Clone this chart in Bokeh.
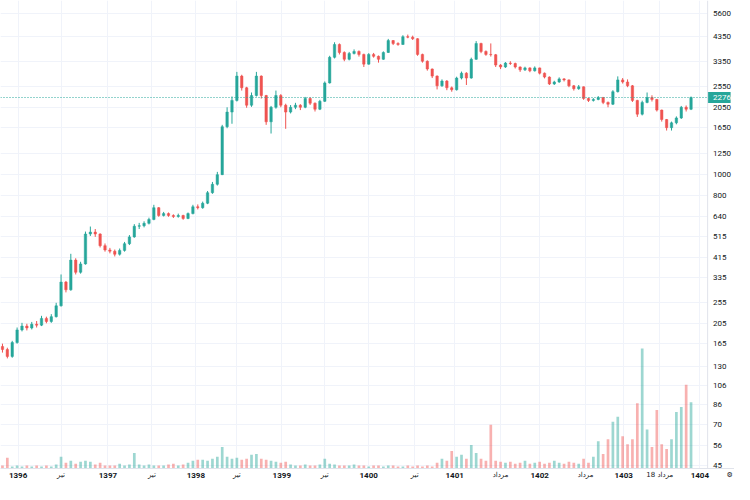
from bokeh.plotting import figure
from bokeh.models import (Range1d, FixedTicker, Span, ColumnDataSource, LinearScale,
                          LinearAxis)
from bokeh.core.properties import value
from bokeh.embed import file_html
from bokeh.resources import INLINE

# ---- data ----
first_open = 160
closes = [155, 144, 167, 191, 199, 195, 203, 201, 216, 209,
          220, 247, 318, 293, 402, 353, 386, 531, 542, 531,
          469, 448, 442, 428, 446, 479, 515, 577, 580, 595,
          620, 703, 647, 660, 647, 640, 647, 627, 660, 710,
          703, 737, 825, 902, 1000, 1667, 1948, 2206, 2859, 2524,
          2096, 2324, 2859, 2324, 1756, 2050, 2324, 2096, 1948, 2050,
          2096, 2050, 2253, 2140, 2008, 2184, 2658, 3492, 4005, 3678,
          3420, 3640, 3716, 3603, 3248, 3603, 3530, 3420, 3678, 4175,
          4047, 4005, 4350, 4330, 4260, 3603, 3350, 3084, 2859, 2577,
          2712, 2524, 2472, 2800, 2950, 2800, 3420, 4047, 3716, 3603,
          3590, 3216, 3150, 3284, 3270, 3150, 3055, 3120, 3025, 3120,
          2950, 2830, 2630, 2685, 2775, 2745, 2577, 2500, 2550, 2253,
          2206, 2230, 2276, 2160, 2118, 2422, 2745, 2685, 2577, 2206,
          1905, 2160, 2276, 2230, 1990, 1800, 1650, 1737, 1830, 2050,
          2008, 2276]
highs = [165, 158, 170, 196, 206, 204, 208, 210, 222, 220,
         226, 255, 345, 322, 430, 410, 395, 545, 575, 560,
         535, 480, 458, 450, 455, 488, 525, 590, 598, 608,
         632, 725, 708, 672, 668, 655, 660, 652, 668, 725,
         728, 750, 840, 925, 1030, 1700, 2050, 2300, 2990, 2900,
         2550, 2400, 2990, 2880, 2340, 2080, 2450, 2360, 2130, 2100,
         2150, 2120, 2290, 2280, 2160, 2220, 2700, 3550, 4100, 4050,
         3720, 3700, 3800, 3760, 3630, 3650, 3660, 3560, 3720, 4250,
         4200, 4100, 4420, 4450, 4400, 4280, 3630, 3380, 3100, 2880,
         2760, 2740, 2560, 2840, 3000, 2980, 3480, 4150, 4080, 3760,
         4050, 3620, 3250, 3320, 3350, 3300, 3170, 3160, 3140, 3170,
         3130, 2970, 2850, 2720, 2820, 2800, 2760, 2600, 2600, 2560,
         2270, 2260, 2310, 2290, 2180, 2460, 2850, 2800, 2760, 2600,
         2220, 2200, 2400, 2330, 2240, 2000, 1810, 1760, 1860, 2080,
         2090, 2300]
lows = [150, 141, 142, 165, 188, 190, 192, 196, 199, 205,
        206, 218, 245, 285, 290, 345, 348, 383, 520, 515,
        460, 440, 432, 418, 422, 440, 472, 510, 560, 570,
        588, 615, 638, 640, 638, 630, 632, 618, 622, 655,
        690, 695, 730, 815, 890, 995, 1640, 1720, 2180, 2450,
        2040, 2060, 2300, 2250, 1700, 1550, 2020, 2050, 1630, 1920,
        2010, 1990, 2030, 2100, 1960, 1990, 2170, 2640, 3450, 3600,
        3350, 3380, 3600, 3520, 3150, 3230, 3480, 3300, 3400, 3660,
        3980, 3950, 3990, 4280, 4200, 3550, 3300, 3030, 2800, 2480,
        2550, 2460, 2420, 2450, 2760, 2600, 2780, 3400, 3650, 3550,
        3520, 3150, 3080, 3120, 3220, 3100, 2990, 3020, 2980, 3000,
        2910, 2790, 2600, 2600, 2660, 2700, 2540, 2450, 2470, 2220,
        2170, 2180, 2210, 2120, 2050, 2100, 2400, 2640, 2540, 2170,
        1850, 1880, 2140, 2180, 1960, 1760, 1600, 1600, 1710, 1810,
        1960, 1990]
volumes = [3, 11, 2, 3, 2, 3, 2, 3, 2, 3,
           2, 4, 12, 6, 8, 5, 7, 8, 7, 4,
           6, 3, 3, 3, 5, 3, 4, 16, 4, 3,
           4, 3, 3, 3, 4, 5, 3, 4, 6, 8,
           9, 9, 8, 10, 12, 22, 12, 10, 11, 9,
           10, 14, 15, 10, 9, 8, 7, 6, 7, 4,
           3, 3, 4, 3, 3, 4, 10, 5, 4, 3,
           3, 3, 4, 3, 3, 2, 3, 3, 2, 3,
           3, 2, 2, 3, 2, 3, 2, 3, 2, 6,
           10, 8, 18, 12, 14, 10, 24, 16, 10, 8,
           45, 8, 7, 6, 7, 5, 6, 8, 5, 6,
           7, 5, 6, 8, 6, 5, 7, 6, 5, 10,
           6, 12, 28, 15, 30, 48, 53, 33, 25, 30,
           67, 123, 40, 22, 60, 25, 20, 30, 58, 63,
           86, 68]
last_price = 2276
price_ticks = [45, 56, 70, 86, 106, 130, 165, 205, 255, 335, 415, 515,
               640, 800, 1000, 1250, 1650, 2050, 2550, 3350, 4350, 5600]
year_pos = [3.2, 21.6, 39.6, 57.2, 75, 92.6, 110, 127.2, 142.8]
year_text = ["1396", "1397", "1398", "1399", "1400", "1401", "1402", "1403", "1404"]
month_pos = [12, 30.6, 48, 66, 84.4, 102, 119.4, 134.6]
month_text = ["تیر", "تیر", "تیر", "تیر", "تیر", "مرداد", "مرداد", "18 مرداد"]

UP = "#26a69a"
DN = "#ef5350"
TXT = "#131722"
GRID = "#f0f3fa"
PANE = "#e0e3eb"

opens = [first_open] + closes[:-1]
idx = list(range(len(closes)))
cols = [UP if c >= o else DN for o, c in zip(opens, closes)]
src = ColumnDataSource(dict(
    x=idx, o=opens, h=highs, l=lows, c=closes,
    top=[max(o, c) for o, c in zip(opens, closes)],
    bot=[min(o, c) for o, c in zip(opens, closes)],
    col=cols, vol=volumes))

# price pane spans x_start..x_pane; the price scale strip spans x_pane..x_end
x_start, x_pane, x_end = -0.4, 144.4, 149.9
y_lo, y_hi = 43.6, 6400

p = figure(width=734, height=484, y_axis_type="log", y_axis_location=None,
           x_range=Range1d(x_start, x_end), y_range=Range1d(y_lo, y_hi),
           output_backend="svg", toolbar_location=None,
           min_border_left=0, min_border_top=0, min_border_right=0, min_border_bottom=16)
p.extra_y_ranges = {"vol": Range1d(0, 480)}
p.extra_y_scales = {"vol": LinearScale()}
p.outline_line_color = None
p.background_fill_color = "white"
p.border_fill_color = "white"

p.xgrid.ticker = FixedTicker(ticks=sorted(year_pos + month_pos))
p.ygrid.ticker = FixedTicker(ticks=price_ticks)
p.xgrid.grid_line_color = GRID
p.ygrid.grid_line_color = GRID

# volume
p.vbar(x="x", width=0.55, top="vol", bottom=0, y_range_name="vol",
       fill_color="col", line_color=None, fill_alpha=0.45, source=src)
# candles
p.segment(x0="x", y0="l", x1="x", y1="h", line_color="col", line_width=1, source=src)
p.vbar(x="x", width=0.5, top="top", bottom="bot", fill_color="col", line_color="col",
       line_width=0.5, source=src)
# last price line
p.segment(x0=[x_start], y0=[last_price], x1=[x_pane], y1=[last_price],
          line_color=UP, line_dash="1 2", line_width=1)

# price scale strip
p.quad(left=[x_pane], right=[x_end], bottom=[y_lo], top=[y_hi],
       fill_color="white", line_color=None)
p.add_layout(Span(location=x_pane, dimension="height", line_color=PANE, line_width=1))
p.text(x=[x_pane + 1.1] * len(price_ticks), y=price_ticks,
       text=[str(t) for t in price_ticks], text_font=value("Roboto"),
       text_font_size="8px", text_color=TXT, text_align="left", text_baseline="middle")
p.rect(x=[(x_pane + x_end) / 2 - 0.4], y=[last_price], width=23, height=11,
       width_units="screen", height_units="screen", fill_color=UP, line_color=None)
p.text(x=[x_pane + 1.1], y=[last_price], text=[str(last_price)], text_font=value("Roboto"),
       text_font_size="8px", text_color="white", text_align="left", text_baseline="middle")

# time axis: years (bold)
xa = p.xaxis[0]
xa.ticker = FixedTicker(ticks=year_pos)
xa.major_label_overrides = {pos: t for pos, t in zip(year_pos, year_text)}
xa.major_label_text_font = "Roboto"
xa.major_label_text_font_style = "bold"
xa.major_label_text_font_size = "8px"
xa.major_label_text_color = TXT
xa.major_tick_line_color = None
xa.minor_tick_line_color = None
xa.major_tick_out = 0
xa.major_tick_in = 0
xa.major_label_standoff = 4
xa.axis_line_color = PANE

# time axis: months (regular), pulled up into the same row
gear_x = x_end - 1.0
ma = LinearAxis(ticker=FixedTicker(ticks=month_pos + [gear_x]))
ov = {pos: t for pos, t in zip(month_pos, month_text)}
ov[gear_x] = "⚙"
ma.major_label_overrides = ov
ma.major_label_text_font = "DejaVu Sans"
ma.major_label_text_font_size = "7px"
ma.major_label_text_color = TXT
ma.major_tick_line_color = None
ma.minor_tick_line_color = None
ma.major_tick_out = 0
ma.major_tick_in = 0
ma.axis_line_color = None
ma.major_label_standoff = -10
p.add_layout(ma, "below")

open("out.html", "w").write(file_html(p, INLINE))
